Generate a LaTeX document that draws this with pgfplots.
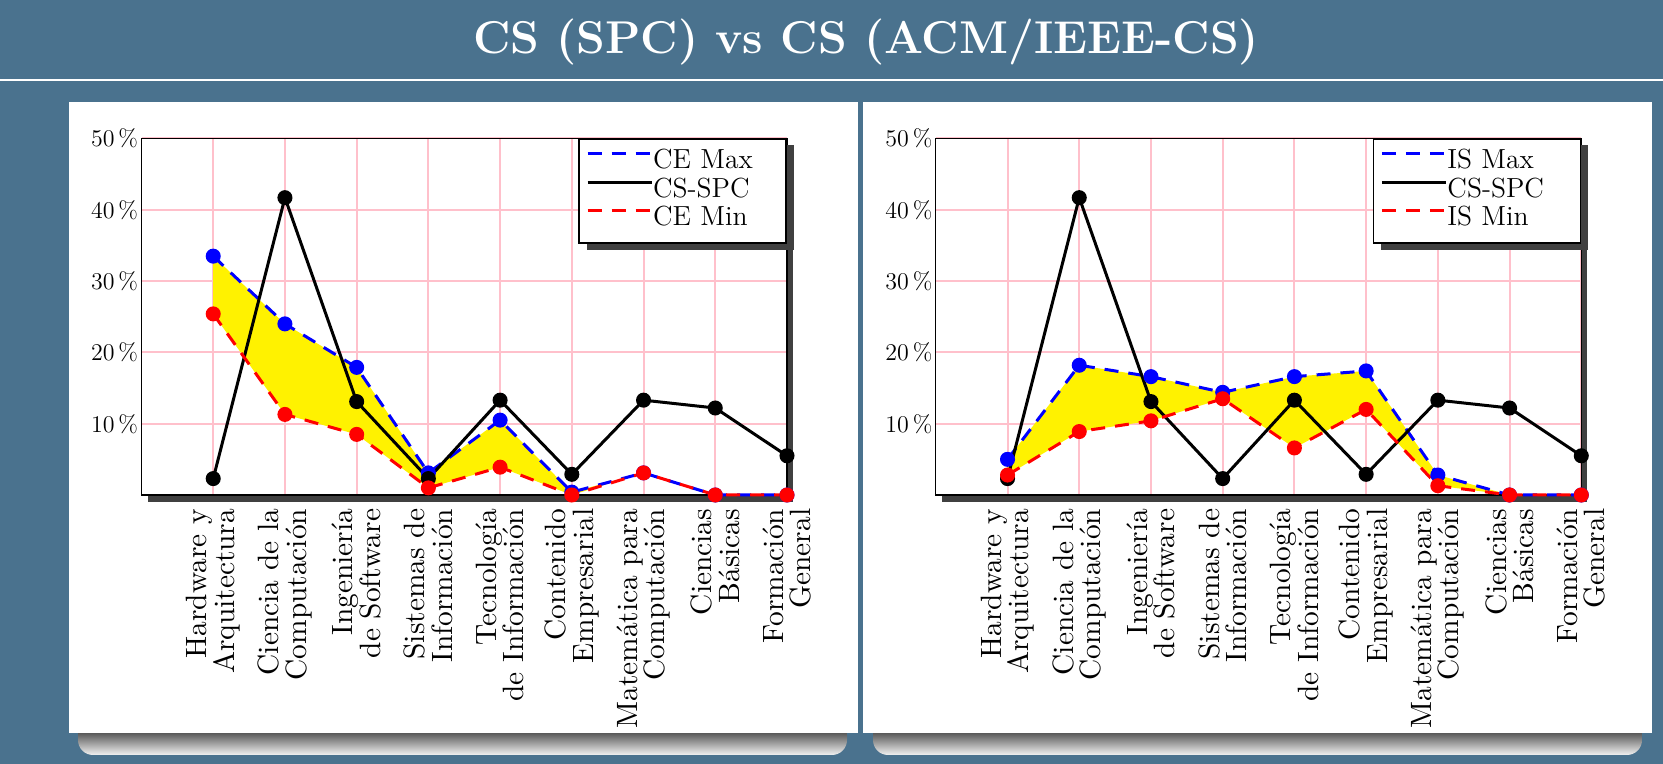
\documentclass[border=0pt]{standalone}
\usepackage{pgfplots}
\pgfplotsset{compat=1.18}

\definecolor{bgblue}{RGB}{74,114,142}
\definecolor{gridpink}{RGB}{255,192,203}

% valores en %, categorias 0..8
\pgfplotstableread{
x  max   min   spc
0  33.5  25.4  2.3
1  24.0  11.3  41.7
2  17.9  8.5   13.1
3  3.1   1.0   2.3
4  10.5  3.9   13.3
5  0.4   0.0   2.9
6  3.1   3.1   13.3
7  0.0   0.0   12.2
8  0.0   0.0   5.5
}\cedata

\pgfplotstableread{
x  max   min   spc
0  5.0   2.8   2.3
1  18.2  8.9   41.7
2  16.6  10.4  13.1
3  14.4  13.5  2.3
4  16.6  6.6   13.3
5  17.4  12.0  2.9
6  2.8   1.3   13.3
7  0.0   0.0   12.2
8  0.0   0.0   5.5
}\isdata

% contorno de la banda amarilla: max de ida, min de vuelta
\pgfplotstableread{
x y
0 33.5
1 24.0
2 17.9
3 3.1
4 10.5
5 0.4
6 3.1
7 0.0
8 0.0
8 0.0
7 0.0
6 3.1
5 0.0
4 3.9
3 1.0
2 8.5
1 11.3
0 25.4
}\ceband

\pgfplotstableread{
x y
0 5.0
1 18.2
2 16.6
3 14.4
4 16.6
5 17.4
6 2.8
7 0.0
8 0.0
8 0.0
7 0.0
6 1.3
5 12.0
4 6.6
3 13.5
2 10.4
1 8.9
0 2.8
}\isband

\pgfplotsset{
  cmpstyle/.style={
    width=322.75pt, height=178.25pt, scale only axis,
    xmin=-1, xmax=8, ymin=0, ymax=50,
    xtick={0,...,8}, ytick={10,20,30,40,50},
    xticklabels={{Hardware y\\Arquitectura},{Ciencia de la\\Computación},
      {Ingeniería\\de Software},{Sistemas de\\Información},
      {Tecnología\\de Información},{Contenido\\Empresarial},
      {Matemática para\\Computación},{Ciencias\\Básicas},{Formación\\General}},
    yticklabel={$\pgfmathprintnumber{\tick}\,\%$},
    grid=major, grid style={gridpink, line width=1pt},
    major tick length=0pt,
    axis line style={black, line width=0.6pt},
    axis background/.style={fill=white},
    x tick label style={rotate=90, anchor=east, align=right, scale=1.47,
      inner xsep=4.5pt, font=\fontsize{10}{9.3}\selectfont},
    y tick label style={inner xsep=1.5pt, font=\fontsize{13}{14}\selectfont},
    legend style={at={(1,1)}, anchor=north east, draw=black, line width=0.8pt,
      fill=white, inner xsep=3.5pt, inner ysep=4.75pt, row sep=0pt,
      nodes={inner sep=0pt, text height=10pt, text depth=4.15pt, text width=63pt,
        align=left, font=\fontsize{13.8}{14}\selectfont}},
    legend image code/.code={\draw[##1] (0pt,4.5pt) -- (32pt,4.5pt);},
    legend cell align=left,
    clip=false,
  },
  maxline/.style={blue, line width=1.5pt, dash pattern=on 7pt off 5pt,
    mark=*, mark size=3pt, mark options={solid}},
  minline/.style={red, line width=1.5pt, dash pattern=on 7pt off 5pt,
    mark=*, mark size=3pt, mark options={solid}},
  spcline/.style={black, line width=1.5pt, mark=*, mark size=3pt},
}

% sombra de la leyenda, bajo el recuadro
\newcommand\legshadow{%
  \fill[black!75] ([shift={(3.5pt,-3.5pt)}]rel axis cs:0.679,0.706)
    rectangle ([shift={(3.5pt,-3.5pt)}]rel axis cs:1,1);}

\begin{document}
\begin{tikzpicture}
\fill[bgblue] (0,0) rectangle (831.5pt,382pt);
\node[anchor=base, text=white, font=\bfseries\fontsize{23}{27}\selectfont]
  at (433pt,355.4pt) {CS (SPC) vs CS (ACM/IEEE-CS)};
\fill[white] (0,341.5pt) rectangle (831.5pt,342.5pt);

% sombras inferiores de los paneles
\shade[top color=black, bottom color=black!5, rounded corners=7.5pt]
  (39pt,4.5pt) rectangle (423.5pt,22pt);
\shade[top color=black, bottom color=black!5, rounded corners=7.5pt]
  (436.5pt,4.5pt) rectangle (821pt,22pt);
\fill[white] (34.25pt,15.5pt) rectangle (428.75pt,331pt);
\fill[white] (431.25pt,15.5pt) rectangle (826pt,331pt);

% sombras de los ejes
\fill[black!75] (73.75pt,131pt) rectangle (396.5pt,309.25pt);
\fill[black!75] (470.9pt,131pt) rectangle (793.65pt,309.25pt);

\begin{axis}[cmpstyle, at={(70.75pt,134.5pt)}, anchor=south west]
  \legshadow
  \addplot[fill=yellow, draw=none, forget plot] table {\ceband};
  \addplot[maxline] table[x=x, y=max] {\cedata};
  \addplot[spcline] table[x=x, y=spc] {\cedata};
  \addplot[minline] table[x=x, y=min] {\cedata};
  \legend{CE Max, CS-SPC, CE Min}
\end{axis}

\begin{axis}[cmpstyle, at={(467.9pt,134.5pt)}, anchor=south west]
  \legshadow
  \addplot[fill=yellow, draw=none, forget plot] table {\isband};
  \addplot[maxline] table[x=x, y=max] {\isdata};
  \addplot[spcline] table[x=x, y=spc] {\isdata};
  \addplot[minline] table[x=x, y=min] {\isdata};
  \legend{IS Max, CS-SPC, IS Min}
\end{axis}
\pgfresetboundingbox
\useasboundingbox (0,0) rectangle (831.5pt,382pt);
\end{tikzpicture}
\end{document}
